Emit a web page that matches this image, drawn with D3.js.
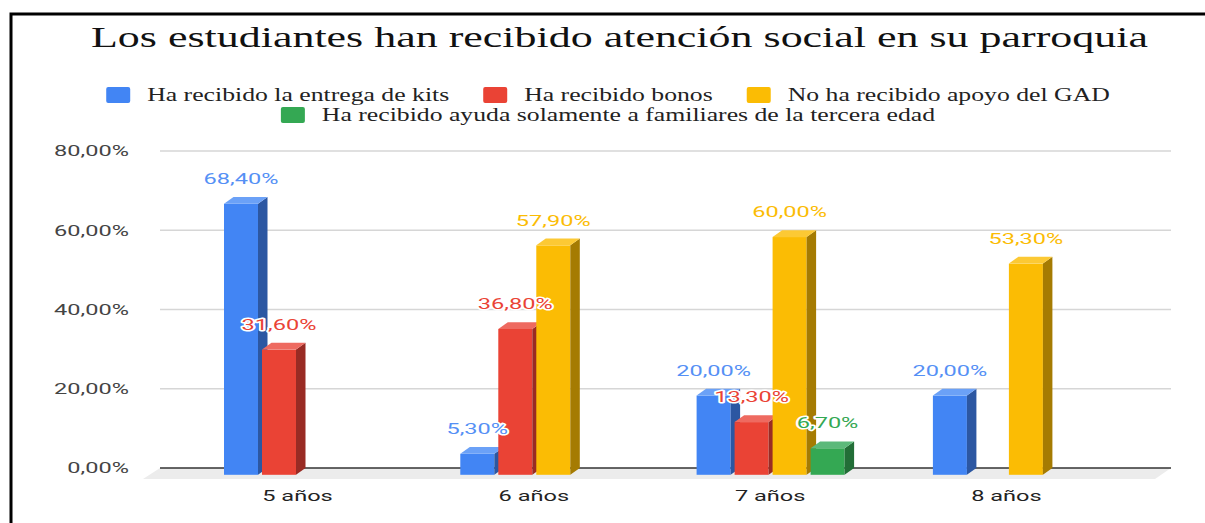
<!DOCTYPE html>
<html>
<head>
<meta charset="utf-8">
<script src="https://cdnjs.cloudflare.com/ajax/libs/d3/7.8.5/d3.min.js"></script>
<style>
  body { margin: 0; background: #fff; }
  svg { display: block; }
</style>
</head>
<body>
<div id="chart"></div>
<script>
// datos
const categorias = ['5 años', '6 años', '7 años', '8 años'];
const series = [
    'Ha recibido la entrega de kits',
    'Ha recibido bonos',
    'No ha recibido apoyo del GAD',
    'Ha recibido ayuda solamente a familiares de la tercera edad'
];
const kits = [68.4, 5.3, 20.0, 20.0];
const bonos = [31.6, 36.8, 13.3, 0];
const sinApoyo = [0, 57.9, 60.0, 53.3];
const terceraEdad = [0, 0, 6.7, 0];
const yTicks = [0, 20, 40, 60, 80];

const valores = [kits, bonos, sinApoyo, terceraEdad];
const colores = ['#4285f4', '#ea4335', '#fbbc04', '#34a853'];
const lados = ['#2c57a2', '#992b24', '#a57b02', '#226e37'];
const techos = ['#6ba1f7', '#ee6a60', '#fcc934', '#5cb97a'];
const etiquetaColor = ['#5590f5', '#ea4335', '#fbbc04', '#34a853'];

const width = 1205, height = 523;
const kSans = 1.52;   // la imagen original está estirada en horizontal
const dx = 9.5, dy = 6.8;   // profundidad 3D

const locale = d3.formatLocale({ decimal: ',', thousands: '.', grouping: [3], currency: ['', ''] });
const fmt = v => locale.format('.2f')(v) + '%';

const svg = d3.select('#chart').append('svg')
    .attr('width', width)
    .attr('height', height);

function estirar(sel, k) {
    sel.each(function () {
        const n = this.getComputedTextLength();
        d3.select(this).attr('textLength', n * k).attr('lengthAdjust', 'spacingAndGlyphs');
    });
}

// marco
svg.append('path')
    .attr('d', `M11,${height} L11,14 L${width},14`)
    .attr('fill', 'none')
    .attr('stroke', '#000')
    .attr('stroke-width', 3);

// título
svg.append('text')
    .attr('x', 619.5)
    .attr('y', 47)
    .attr('text-anchor', 'middle')
    .attr('font-family', 'Liberation Serif')
    .attr('font-size', 29)
    .attr('fill', '#111')
    .text('Los estudiantes han recibido atención social en su parroquia')
    .attr('textLength', 1057)
    .attr('lengthAdjust', 'spacingAndGlyphs');

// escalas
const x0 = d3.scaleBand().domain(categorias).range([179.4, 1124.6]);
const x1 = d3.scaleBand().domain(d3.range(series.length)).range([44.6, 192.6]).paddingInner(0.105);
const y = d3.scaleLinear().domain([0, 80]).range([468, 151]);
const plotL = 160, plotR = 1171;

// leyenda
const legend = svg.append('g');
let kLeg = 1;
const items = series.map((s, i) => {
    const t = legend.append('text')
        .attr('font-family', 'Liberation Serif')
        .attr('font-size', 19.5)
        .attr('fill', '#222')
        .text(s);
    if (i === 0) kLeg = 302 / t.node().getComputedTextLength();
    const w = t.node().getComputedTextLength() * kLeg;
    t.attr('textLength', w).attr('lengthAdjust', 'spacingAndGlyphs');
    return { t, w: 24 + 17 + w, i };
});
const filas = [[]];
let acum = 0;
items.forEach(it => {
    const fila = filas[filas.length - 1];
    const extra = (fila.length ? 34 : 0) + it.w;
    if (fila.length && acum + extra > 1050) {
        filas.push([it]);
        acum = it.w;
    } else {
        fila.push(it);
        acum += extra;
    }
});
filas.forEach((fila, r) => {
    const total = d3.sum(fila, d => d.w) + 34 * (fila.length - 1);
    let cx = 608 - total / 2;
    const base = 101 + r * 20;
    fila.forEach(it => {
        legend.append('rect')
            .attr('x', cx).attr('y', base - 14)
            .attr('width', 24).attr('height', 16)
            .attr('rx', 2)
            .attr('fill', colores[it.i]);
        it.t.attr('x', cx + 24 + 17).attr('y', base);
        cx += it.w + 34;
    });
});

// suelo
svg.append('polygon')
    .attr('points', [[plotL, y(0)], [plotR, y(0)], [plotR - 16, y(0) + 11], [plotL - 17, y(0) + 11]].map(p => p.join(',')).join(' '))
    .attr('fill', '#ececec');

// líneas de cuadrícula
svg.append('g').selectAll('line')
    .data(yTicks.filter(v => v > 0))
    .join('line')
    .attr('x1', plotL).attr('x2', plotR)
    .attr('y1', d => y(d)).attr('y2', d => y(d))
    .attr('stroke', '#d6d6d6')
    .attr('stroke-width', 1.6);

svg.append('line')
    .attr('x1', plotL).attr('x2', plotR)
    .attr('y1', y(0)).attr('y2', y(0))
    .attr('stroke', '#333')
    .attr('stroke-width', 1.5);

// etiquetas eje y
const yLab = svg.append('g').selectAll('text')
    .data(yTicks)
    .join('text')
    .attr('x', 129)
    .attr('y', d => y(d))
    .attr('dy', '0.35em')
    .attr('text-anchor', 'end')
    .attr('font-family', 'Roboto')
    .attr('font-size', 15.5)
    .attr('fill', '#444')
    .text(d => fmt(d));
estirar(yLab, kSans);

// barras 3D
const barras = [];
categorias.forEach((c, ci) => {
    valores.forEach((serie, si) => {
        if (serie[ci] > 0) barras.push({ c, si, v: serie[ci] });
    });
});

const gBar = svg.append('g');
barras.forEach(b => {
    const xf = x0(b.c) + x1(b.si);
    const w = x1.bandwidth();
    const yt = y(b.v) + dy;
    const yb = y(0) + dy;
    const g = gBar.append('g');
    g.append('rect')
        .attr('x', xf).attr('y', yt)
        .attr('width', w).attr('height', yb - yt)
        .attr('fill', colores[b.si]);
    g.append('polygon')
        .attr('points', [[xf + w, yt], [xf + w + dx, yt - dy], [xf + w + dx, yb - dy], [xf + w, yb]].map(p => p.join(',')).join(' '))
        .attr('fill', lados[b.si]);
    g.append('polygon')
        .attr('points', [[xf, yt], [xf + w, yt], [xf + w + dx, yt - dy], [xf + dx, yt - dy]].map(p => p.join(',')).join(' '))
        .attr('fill', techos[b.si]);
});

// etiquetas de datos
const dLab = svg.append('g').selectAll('text')
    .data(barras)
    .join('text')
    .attr('x', d => x0(d.c) + x1(d.si) + x1.bandwidth() / 2)
    .attr('y', d => y(d.v) - 13)
    .attr('text-anchor', 'middle')
    .attr('font-family', 'Roboto')
    .attr('font-size', 15.5)
    .attr('fill', d => etiquetaColor[d.si])
    .attr('stroke', '#fff')
    .attr('stroke-width', 3)
    .attr('stroke-linejoin', 'round')
    .attr('paint-order', 'stroke')
    .text(d => fmt(d.v));
estirar(dLab, kSans);

// etiquetas eje x
const xLab = svg.append('g').selectAll('text')
    .data(categorias)
    .join('text')
    .attr('x', d => x0(d) + x0.bandwidth() / 2)
    .attr('y', 500.5)
    .attr('text-anchor', 'middle')
    .attr('font-family', 'Roboto')
    .attr('font-size', 15.5)
    .attr('fill', '#222')
    .text(d => d);
estirar(xLab, kSans);
</script>
</body>
</html>
